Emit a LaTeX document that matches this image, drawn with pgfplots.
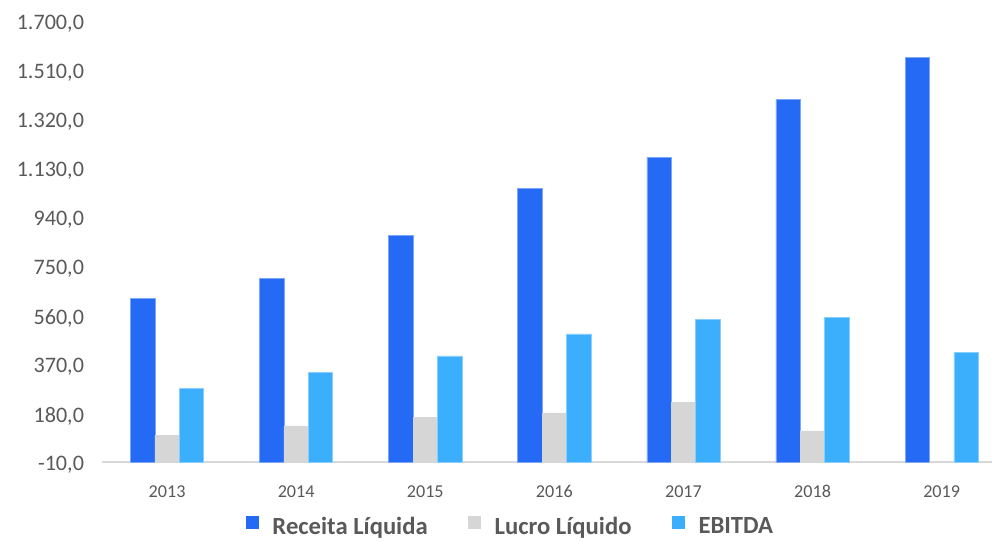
\documentclass[border=0pt]{standalone}
\usepackage{pgfplots}
\pgfplotsset{compat=1.18}
\usepackage{fontspec}
\setmainfont{Carlito}
\definecolor{rec}{RGB}{36,106,245}
\definecolor{luc}{RGB}{214,214,214}
\definecolor{ebi}{RGB}{59,175,251}
\definecolor{txt}{RGB}{89,89,89}
\definecolor{axl}{RGB}{217,217,217}
\begin{document}
\begin{tikzpicture}
\begin{axis}[
  name=ax,
  scale only axis,
  width=667.5pt, height=330.75pt,
  ymin=-10, ymax=1700,
  ytick={-10,180,370,560,750,940,1130,1320,1510,1700},
  xmin=-0.504, xmax=6.39,
  xtick={0,1,2,3,4,5,6},
  xticklabels={2013,2014,2015,2016,2017,2018,2019},
  ybar=0pt, bar width=18.3pt,
  axis line style={draw=none},
  major tick length=0pt,
  tick style={draw=none},
  extra y ticks={0},
  extra y tick labels={},
  extra y tick style={grid=major, major grid style={draw=axl, line width=1.4pt}},
  /pgf/number format/.cd, use comma, 1000 sep={.}, fixed, fixed zerofill, precision=1, assume math mode=true,
  /pgfplots/.cd,
  yticklabel style={font=\fontsize{16.6}{18}\selectfont, text=txt, xshift=-10pt},
  xticklabel style={font=\fontsize{13.6}{16}\selectfont, text=txt, yshift=-12pt, text height=9pt, text depth=0pt},
  legend style={draw=none, fill=none, at={(0.458,-0.109)}, anchor=north, font=\fontsize{18.5}{20}\selectfont\bfseries, text=txt,
    nodes={inner sep=0pt},
    /tikz/every odd column/.append style={column sep=10pt},
    /tikz/every even column/.append style={column sep=30.5pt}},
  legend columns=3,
  legend image code/.code={\fill[#1,draw=none] (0pt,-1.95pt) rectangle (9.75pt,7.8pt);},
]
\addplot[fill=rec, draw=rec!60!white, line width=0.4pt] coordinates {(0,636) (1,715) (2,881) (3,1062) (4,1184) (5,1408) (6,1571)};
\addplot[fill=luc, draw=luc, line width=0.4pt] coordinates {(0,106) (1,142) (2,175) (3,192) (4,233) (5,122) (6,0)};
\addplot[fill=ebi, draw=ebi!60!white, line width=0.4pt] coordinates {(0,287) (1,349) (2,413) (3,498) (4,556) (5,563) (6,427)};
\legend{Receita Líquida,Lucro Líquido,EBITDA}
\end{axis}
\pgfresetboundingbox
\path ([xshift=-76.5pt,yshift=-57.75pt]ax.south west) rectangle ([yshift=18pt]ax.north east);
\end{tikzpicture}
\end{document}
